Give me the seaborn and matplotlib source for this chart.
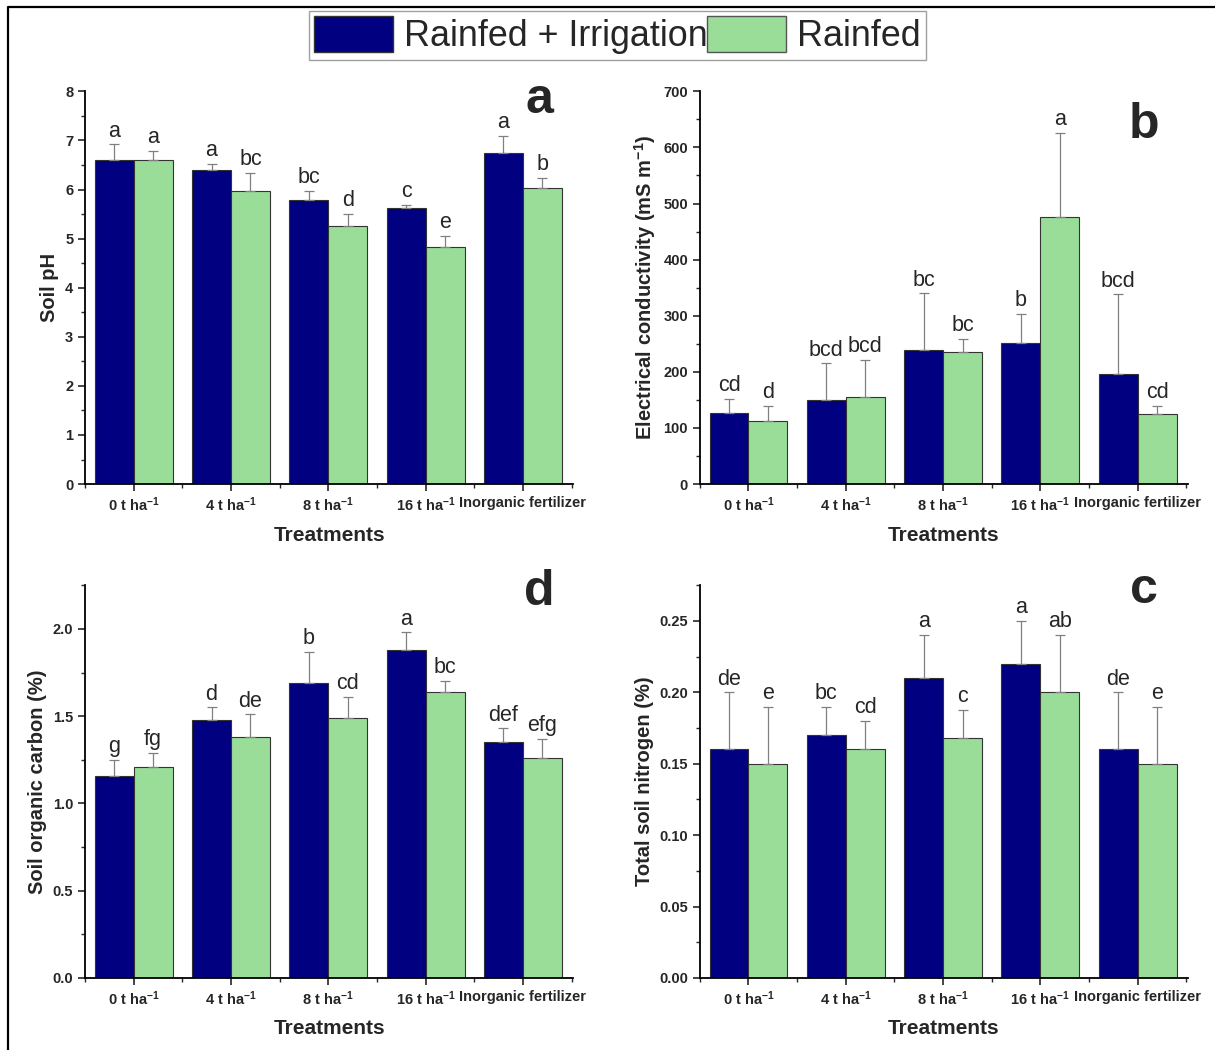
# soil properties under two water regimes - 4 panel bar chart
import numpy as np
import pandas as pd
import seaborn as sns
import matplotlib.pyplot as plt
from matplotlib.patches import Patch
from matplotlib.lines import Line2D
from matplotlib.ticker import MultipleLocator, FixedLocator

sns.set_style('ticks')
plt.rcParams['font.family'] = ['Liberation Sans', 'DejaVu Sans']
plt.rcParams['mathtext.default'] = 'regular'

# DATA
treatments = ['0 t ha$^{-1}$', '4 t ha$^{-1}$', '8 t ha$^{-1}$', '16 t ha$^{-1}$', 'Inorganic fertilizer']
systems = ['Rainfed + Irrigation', 'Rainfed']

# soil pH
ph_ri = [6.60, 6.40, 5.78, 5.62, 6.75]
ph_ri_top = [6.92, 6.53, 5.98, 5.68, 7.10]
ph_rf = [6.60, 5.97, 5.26, 4.82, 6.03]
ph_rf_top = [6.78, 6.34, 5.51, 5.06, 6.24]
ph_ri_let = ['a', 'a', 'bc', 'c', 'a']
ph_rf_let = ['a', 'bc', 'd', 'e', 'b']

# electrical conductivity
ec_ri = [127, 150, 239, 252, 197]
ec_ri_top = [152, 215, 340, 303, 338]
ec_rf = [112, 156, 235, 476, 124]
ec_rf_top = [139, 222, 259, 626, 140]
ec_ri_let = ['cd', 'bcd', 'bc', 'b', 'bcd']
ec_rf_let = ['d', 'bcd', 'bc', 'a', 'cd']

# soil organic carbon
soc_ri = [1.16, 1.48, 1.69, 1.88, 1.35]
soc_ri_top = [1.25, 1.55, 1.87, 1.98, 1.43]
soc_rf = [1.21, 1.38, 1.49, 1.64, 1.26]
soc_rf_top = [1.29, 1.51, 1.61, 1.70, 1.37]
soc_ri_let = ['g', 'd', 'b', 'a', 'def']
soc_rf_let = ['fg', 'de', 'cd', 'bc', 'efg']

# total soil nitrogen
tn_ri = [0.16, 0.17, 0.21, 0.22, 0.16]
tn_ri_top = [0.20, 0.19, 0.24, 0.25, 0.20]
tn_rf = [0.15, 0.16, 0.168, 0.20, 0.15]
tn_rf_top = [0.19, 0.18, 0.188, 0.24, 0.19]
tn_ri_let = ['de', 'bc', 'a', 'a', 'de']
tn_rf_let = ['e', 'cd', 'c', 'ab', 'e']

navy = '#000080'
green = '#99dd99'

fig = plt.figure(figsize=(12.15, 10.5), dpi=100)

# left and top border lines of the figure
fig.lines.append(Line2D([0.0066, 0.0066, 1.0], [0.0, 0.9933, 0.9933], transform=fig.transFigure,
                        color='black', linewidth=1.6))


def panel(rect, ri, ri_top, rf, rf_top, ri_let, rf_let, ylabel, ymax, major, minor, tag, tag_xy, fmt):
    ax = fig.add_axes(rect)
    df = pd.DataFrame({
        'treatment': treatments * 2,
        'system': [systems[0]] * 5 + [systems[1]] * 5,
        'value': ri + rf,
    })
    sns.barplot(data=df, x='treatment', y='value', hue='system', palette=[navy, green],
                order=treatments, hue_order=systems, width=0.8, errorbar=None,
                edgecolor='#333333', linewidth=0.8, saturation=1, legend=False, ax=ax)

    # one sided error bars + letters
    for cont, tops, lets in zip(ax.containers, [ri_top, rf_top], [ri_let, rf_let]):
        for bar, top, let in zip(cont, tops, lets):
            x = bar.get_x() + bar.get_width() / 2
            h = bar.get_height()
            ax.errorbar(x, h, yerr=[[0], [top - h]], fmt='none', ecolor='gray',
                        elinewidth=0.9, capsize=3.5, capthick=0.9)
            ax.annotate(let, (x, top), xytext=(0, 2), textcoords='offset points',
                        ha='center', va='bottom', fontsize=15.5)

    ax.set_xlim(-0.5, 4.52)
    ax.set_ylim(0, ymax)
    ax.yaxis.set_major_locator(MultipleLocator(major))
    ax.yaxis.set_minor_locator(MultipleLocator(minor))
    ax.yaxis.set_major_formatter(fmt)
    ax.xaxis.set_minor_locator(FixedLocator(np.arange(-0.5, 5, 1)))
    ax.tick_params(axis='both', which='major', direction='out', length=5, width=1.2, labelsize=10.5)
    ax.tick_params(axis='both', which='minor', direction='out', length=3, width=1.0)
    for lab in ax.get_xticklabels() + ax.get_yticklabels():
        lab.set_fontweight('bold')
    for s in ['left', 'bottom']:
        ax.spines[s].set_linewidth(1.3)
        ax.spines[s].set_color('black')
    sns.despine(ax=ax)
    ax.set_xlabel('Treatments', fontsize=15, fontweight='bold', labelpad=8)
    ax.set_ylabel(ylabel, fontsize=14.5, fontweight='bold')
    ax.text(tag_xy[0], tag_xy[1], tag, transform=ax.transAxes, fontsize=36, fontweight='bold',
            ha='center', va='baseline')
    return ax


panel([0.070, 0.539, 0.402, 0.374], ph_ri, ph_ri_top, ph_rf, ph_rf_top, ph_ri_let, ph_rf_let,
      'Soil pH', 8, 1, 0.5, 'a', (0.93, 0.944), '{x:.0f}')
panel([0.576, 0.539, 0.402, 0.374], ec_ri, ec_ri_top, ec_rf, ec_rf_top, ec_ri_let, ec_rf_let,
      'Electrical conductivity (mS m$^{-1}$)', 700, 100, 50, 'b', (0.91, 0.880), '{x:.0f}')
panel([0.070, 0.0686, 0.402, 0.374], soc_ri, soc_ri_top, soc_rf, soc_rf_top, soc_ri_let, soc_rf_let,
      'Soil organic carbon (%)', 2.25, 0.5, 0.25, 'd', (0.93, 0.949), '{x:.1f}')
panel([0.576, 0.0686, 0.402, 0.374], tn_ri, tn_ri_top, tn_rf, tn_rf_top, tn_ri_let, tn_rf_let,
      'Total soil nitrogen (%)', 0.275, 0.05, 0.025, 'c', (0.91, 0.954), '{x:.2f}')

# shared legend at the top
handles = [Patch(facecolor=navy, edgecolor='#333333', label=systems[0]),
           Patch(facecolor=green, edgecolor='#555555', label=systems[1])]
fig.legend(handles=handles, loc='upper center', bbox_to_anchor=(0.508, 0.9895), ncol=2,
           frameon=True, fancybox=False, edgecolor='#888888',
           handlelength=2.2, handleheight=1.15, handletextpad=0.3, columnspacing=0.0,
           borderpad=0.15, borderaxespad=0.0, prop={'size': 25.8})

fig.savefig('out.png', dpi=100)
